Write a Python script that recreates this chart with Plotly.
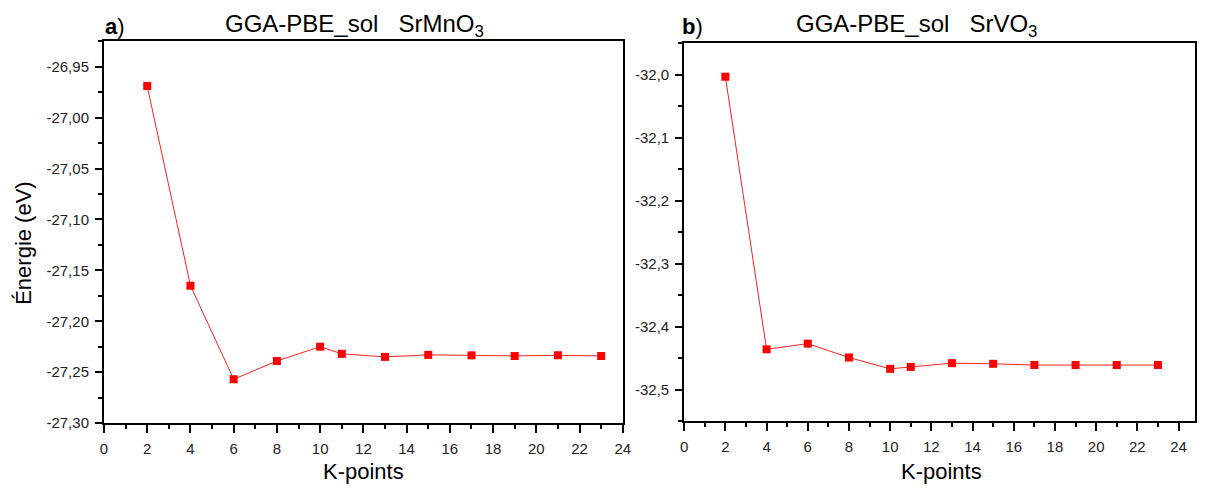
import plotly.graph_objects as go

# K-point convergence data (total energy in eV)
kpoints_mn = [2, 4, 6, 8, 10, 11, 13, 15, 17, 19, 21, 23]
energy_mn = [-26.969, -27.165, -27.257, -27.239, -27.225, -27.232,
             -27.235, -27.233, -27.2335, -27.234, -27.2335, -27.234]

kpoints_v = [2, 4, 6, 8, 10, 11, 13, 15, 17, 19, 21, 23]
energy_v = [-32.003, -32.436, -32.427, -32.449, -32.467, -32.464,
            -32.458, -32.459, -32.461, -32.461, -32.461, -32.461]

# Tick positions and labels (comma decimal, plain hyphen minus)
x_ticks = [0, 2, 4, 6, 8, 10, 12, 14, 16, 18, 20, 22, 24]
y_ticks_mn = [-27.30, -27.25, -27.20, -27.15, -27.10, -27.05, -27.00, -26.95]
y_labels_mn = ["-27,30", "-27,25", "-27,20", "-27,15", "-27,10", "-27,05",
               "-27,00", "-26,95"]
y_ticks_v = [-32.5, -32.4, -32.3, -32.2, -32.1, -32.0]
y_labels_v = ["-32,5", "-32,4", "-32,3", "-32,2", "-32,1", "-32,0"]

FONT = "Liberation Sans, Arial, sans-serif"
W, H = 1207, 496

def px_x(p):
    return p / W

def px_y(p):
    return 1 - p / H

fig = go.Figure()

marker = dict(symbol="square", size=8, color="#ff0000", line=dict(width=0))
line = dict(color="#ff2020", width=1)

fig.add_trace(go.Scatter(x=kpoints_mn, y=energy_mn, mode="lines+markers",
                         marker=marker, line=line, xaxis="x", yaxis="y",
                         showlegend=False))
fig.add_trace(go.Scatter(x=kpoints_v, y=energy_v, mode="lines+markers",
                         marker=marker, line=line, xaxis="x2", yaxis="y2",
                         showlegend=False))

tickfont = dict(family=FONT, size=15, color="#222222")

def xaxis_style(domain, rng, anchor):
    return dict(domain=domain, range=rng, anchor=anchor,
                tickmode="array", tickvals=x_ticks,
                ticktext=[str(v) for v in x_ticks],
                ticks="outside", ticklen=8, tickwidth=2,
                tickcolor="black", showline=True, linecolor="black",
                linewidth=2, mirror=True, showgrid=False, zeroline=False,
                tickfont=tickfont, fixedrange=True, ticklabelstandoff=3,
                minor=dict(dtick=1, tick0=0, ticks="outside", ticklen=4,
                           tickwidth=2, tickcolor="black", showgrid=False))

def yaxis_style(domain, rng, anchor, vals, labels, minor_dtick, tick0):
    return dict(domain=domain, range=rng, anchor=anchor,
                tickmode="array", tickvals=vals, ticktext=labels,
                ticks="outside", ticklen=7, tickwidth=2, tickcolor="black",
                showline=True, linecolor="black", linewidth=2, mirror=True,
                showgrid=False, zeroline=False, tickfont=tickfont,
                fixedrange=True, ticklabelstandoff=3,
                minor=dict(dtick=minor_dtick, tick0=tick0, ticks="outside",
                           ticklen=4, tickwidth=2, tickcolor="black",
                           showgrid=False))

fig.update_layout(
    width=W, height=H,
    margin=dict(l=0, r=0, t=0, b=0),
    paper_bgcolor="white", plot_bgcolor="white",
    xaxis=xaxis_style([px_x(101), px_x(625)], [0, 24], "y"),
    yaxis=yaxis_style([px_y(430), px_y(42)], [-27.30, -26.925], "x",
                      y_ticks_mn, y_labels_mn, 0.025, -27.30),
    xaxis2=xaxis_style([px_x(687), px_x(1203)], [0, 24.8], "y2"),
    yaxis2=yaxis_style([px_y(428), px_y(44)], [-32.55, -31.95], "x2",
                       y_ticks_v, y_labels_v, 0.05, -32.5),
)

nb = "\u00a0"
annotations = [
    dict(text="<b>a</b>)", x=px_x(100), y=px_y(27), xanchor="left",
         yanchor="middle", font=dict(family=FONT, size=22, color="black")),
    dict(text=f"GGA-PBE_sol{nb*3}SrMnO<sub>3</sub>", x=px_x(221), y=px_y(26),
         xanchor="left", yanchor="middle",
         font=dict(family=FONT, size=24, color="black")),
    dict(text="<b>b</b>)", x=px_x(683), y=px_y(27), xanchor="left",
         yanchor="middle", font=dict(family=FONT, size=22, color="black")),
    dict(text=f"GGA-PBE_sol{nb*3}SrVO<sub>3</sub>", x=px_x(798), y=px_y(26),
         xanchor="left", yanchor="middle",
         font=dict(family=FONT, size=24, color="black")),
    dict(text="K-points", x=px_x(363), y=px_y(479), xanchor="center",
         yanchor="middle", font=dict(family=FONT, size=22, color="black")),
    dict(text="K-points", x=px_x(947), y=px_y(479), xanchor="center",
         yanchor="middle", font=dict(family=FONT, size=22, color="black")),
    dict(text="Énergie (eV)", x=px_x(19), y=px_y(247), xanchor="center",
         yanchor="middle", textangle=-90,
         font=dict(family=FONT, size=22, color="black")),
]
for a in annotations:
    a.update(xref="paper", yref="paper", showarrow=False)
fig.update_layout(annotations=annotations)

fig.write_html("out.html")
